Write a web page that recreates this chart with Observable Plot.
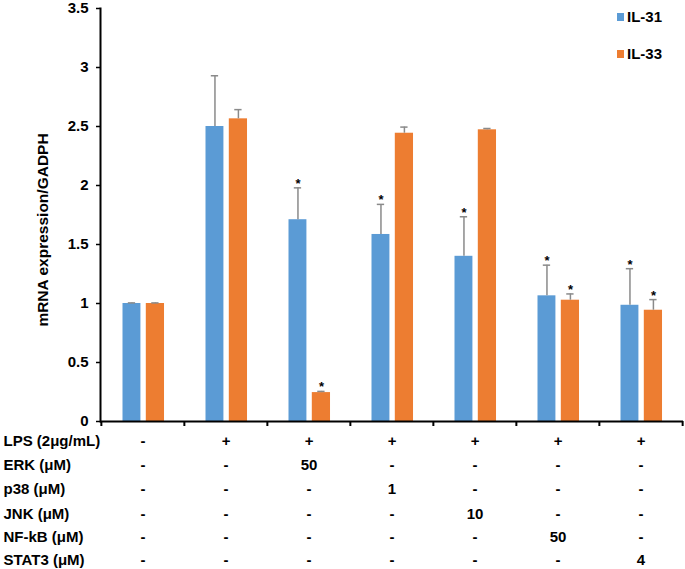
<!DOCTYPE html>
<html>
<head>
<meta charset="utf-8">
<script src="https://cdn.jsdelivr.net/npm/d3@7"></script>
<script src="https://cdn.jsdelivr.net/npm/@observablehq/plot@0.6"></script>
<style>
  body { margin: 0; background: #fff; }
  #wrap { position: relative; width: 685px; height: 569px; font-family: "Liberation Sans", Arial, sans-serif; }
  .leg { position: absolute; left: 617px; font: bold 15px "Liberation Sans", Arial, sans-serif; color: #000; display: flex; align-items: center; }
  .leg span.sw { display: inline-block; width: 7px; height: 8px; margin-right: 3px; }
</style>
</head>
<body>
<div id="wrap"></div>
<script>
const categories = ["G1", "G2", "G3", "G4", "G5", "G6", "G7"];
const seriesNames = ["IL-31", "IL-33"];
const seriesColors = ["#5b9bd5", "#ed7d31"];
const il31 = [1.00, 2.50, 1.71, 1.585, 1.40, 1.065, 0.985];
const il31Sd = [0.005, 0.43, 0.27, 0.255, 0.335, 0.26, 0.31];
const il31Sig = [false, false, true, true, true, true, true];
const il33 = [1.00, 2.565, 0.245, 2.443, 2.472, 1.028, 0.943];
const il33Sd = [0.005, 0.078, 0.01, 0.052, 0.011, 0.053, 0.09];
const il33Sig = [false, false, true, false, false, true, true];
const yTicks = [0, 0.5, 1, 1.5, 2, 2.5, 3, 3.5];
const yLabel = "mRNA expression/GADPH";
const rowLabels = ["LPS (2μg/mL)", "ERK (μM)", "p38 (μM)", "JNK (μM)", "NF-kB (μM)", "STAT3 (μM)"];
const rowLPS = ["-", "+", "+", "+", "+", "+", "+"];
const rowERK = ["-", "-", "50", "-", "-", "-", "-"];
const rowP38 = ["-", "-", "-", "1", "-", "-", "-"];
const rowJNK = ["-", "-", "-", "-", "10", "-", "-"];
const rowNFkB = ["-", "-", "-", "-", "-", "50", "-"];
const rowSTAT3 = ["-", "-", "-", "-", "-", "-", "4"];

const rows = [rowLPS, rowERK, rowP38, rowJNK, rowNFkB, rowSTAT3];
const rowOffsets = [20, 44, 68, 93, 116, 139];

const d31 = categories.map((c, i) => ({cat: c, v: il31[i], top: il31[i] + il31Sd[i], sig: il31Sig[i]}));
const d33 = categories.map((c, i) => ({cat: c, v: il33[i], top: il33[i] + il33Sd[i], sig: il33Sig[i]}));

const W = 685, H = 569, ML = 100, MR = 2, MT = 8, MB = 148;
const band = (W - ML - MR) / categories.length;
const font = {fontFamily: "Liberation Sans, Arial, sans-serif", fontWeight: "bold"};

function seriesMarks(data, color, left, right, capHalf) {
  const center = (left + (band - right)) / 2;
  const off = center - band / 2;
  return [
    Plot.barY(data, {x: "cat", y: "v", fill: color, insetLeft: left, insetRight: right}),
    Plot.ruleX(data, {x: "cat", y1: "v", y2: "top", dx: off, stroke: "#8a8a8a", strokeWidth: 1.5}),
    Plot.tickY(data, {x: "cat", y: "top", stroke: "#8a8a8a", strokeWidth: 1.5,
      insetLeft: center - capHalf, insetRight: band - center - capHalf}),
    Plot.text(data.filter(d => d.sig), {x: "cat", y: "top", text: () => "*", dx: off, dy: 0,
      lineAnchor: "bottom", fontSize: 13, ...font, fill: "#000"})
  ];
}

const tableMarks = [];
rows.forEach((r, k) => {
  tableMarks.push(Plot.text(categories, {x: d => d, text: (d, i) => r[i], frameAnchor: "bottom",
    dy: rowOffsets[k], lineAnchor: "middle", fontSize: 15, ...font, fill: "#000"}));
  tableMarks.push(Plot.text([rowLabels[k]], {text: d => d, frameAnchor: "bottom-left", dx: -97,
    dy: rowOffsets[k], textAnchor: "start", lineAnchor: "middle", fontSize: 15, ...font, fill: "#000"}));
});

const chart = Plot.plot({
  width: W, height: H,
  marginLeft: ML, marginRight: MR, marginTop: MT, marginBottom: MB,
  style: {fontFamily: "Liberation Sans, Arial, sans-serif", background: "#fff", overflow: "visible"},
  x: {domain: categories, padding: 0, axis: null},
  y: {domain: [0, 3.5], axis: null},
  marks: [
    ...seriesMarks(d31, seriesColors[0], 21.5, band - 39.7, 3.8),
    ...seriesMarks(d33, seriesColors[1], 44.8, band - 63.3, 3.8),
    Plot.ruleY([0], {stroke: "#000", strokeWidth: 2}),
    Plot.frame({anchor: "left", stroke: "#000", strokeWidth: 2}),
    Plot.axisY({ticks: yTicks, tickFormat: d => String(d), tickSize: 4, tickPadding: 8,
      fontSize: 15, fontWeight: "bold", strokeWidth: 1.5, label: null}),
    Plot.axisX({tickSize: 5, tickFormat: () => "", dx: -band / 2, strokeWidth: 2, label: null}),
    Plot.axisX([categories[categories.length - 1]], {tickSize: 5, tickFormat: () => "", dx: band / 2, strokeWidth: 2, label: null}),
    Plot.text([yLabel], {text: d => d, frameAnchor: "left", textAnchor: "middle", rotate: -90, dx: -57, dy: 15,
      fontSize: 15.5, ...font, fill: "#000"}),
    ...tableMarks
  ]
});

const wrap = document.getElementById("wrap");
wrap.appendChild(chart);
seriesNames.forEach((n, i) => {
  const el = document.createElement("div");
  el.className = "leg";
  el.style.top = (i === 0 ? 8 : 45) + "px";
  el.innerHTML = `<span class="sw" style="background:${seriesColors[i]}"></span>${n}`;
  wrap.appendChild(el);
});
</script>
</body>
</html>
